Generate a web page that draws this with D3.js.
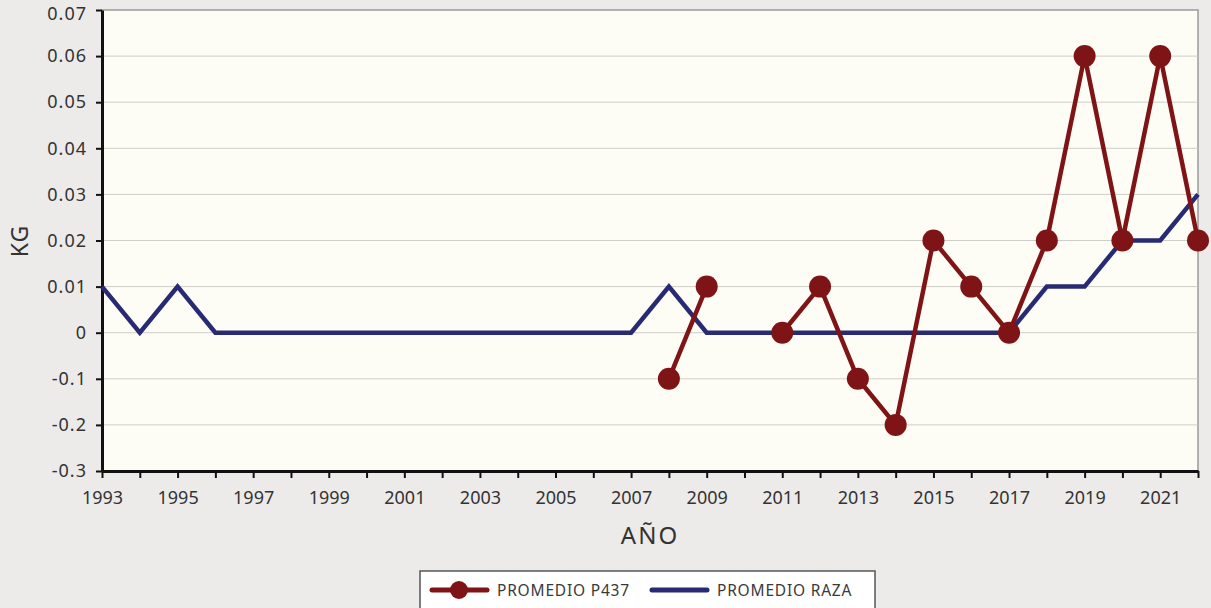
<!DOCTYPE html>
<html>
<head>
<meta charset="utf-8">
<script src="https://cdn.jsdelivr.net/npm/d3@7"></script>
<style>
  body { margin: 0; background: #edebea; }
  svg { display: block; font-family: "Noto Sans", "DejaVu Sans", sans-serif; }
</style>
</head>
<body>
<svg id="chart"></svg>
<script>
// data
var years = d3.range(1993, 2023);
var razaValues = [0.01, 0, 0.01, 0, 0, 0, 0, 0, 0, 0, 0, 0, 0, 0, 0,
  0.01, 0, 0, 0, 0, 0, 0, 0, 0, 0, 0.01, 0.01, 0.02, 0.02, 0.03];
var p437Years = [2008, 2009, 2010, 2011, 2012, 2013, 2014, 2015, 2016, 2017, 2018, 2019, 2020, 2021, 2022];
var p437Values = [-0.1, 0.01, null, 0, 0.01, -0.1, -0.2, 0.02, 0.01, 0, 0.02, 0.06, 0.02, 0.06, 0.02];
var yTicks = [-0.3, -0.2, -0.1, 0, 0.01, 0.02, 0.03, 0.04, 0.05, 0.06, 0.07];
var xTickLabels = d3.range(1993, 2022, 2);
var seriesNames = ["PROMEDIO P437", "PROMEDIO RAZA"];

var width = 1211, height = 608;
var margin = {top: 10, right: 13, bottom: 137, left: 102};
var red = "#7f1416", navy = "#282b73";
var textColor = "#333";

var svg = d3.select("#chart").attr("width", width).attr("height", height);

var x = d3.scaleLinear().domain([1993, 2022]).range([margin.left, width - margin.right]);
// the axis has equal spacing per label, so it is piecewise: 3 steps below 0, 7 above
var y0 = margin.top + 7 * (height - margin.top - margin.bottom) / 10;
var y = d3.scaleLinear().domain([-0.3, 0, 0.07]).range([height - margin.bottom, y0, margin.top]);

svg.append("rect")
  .attr("x", margin.left).attr("y", margin.top)
  .attr("width", x(2022) - x(1993)).attr("height", y(-0.3) - y(0.07))
  .attr("fill", "#fdfdf5")
  .attr("stroke", "#9a9a9a").attr("stroke-width", 1.5);

// grid
svg.append("g").selectAll("line")
  .data(yTicks.slice(1, -1))
  .enter().append("line")
  .attr("x1", margin.left).attr("x2", x(2022))
  .attr("y1", function(d) { return y(d); })
  .attr("y2", function(d) { return y(d); })
  .attr("stroke", "#cfcdc8").attr("stroke-width", 1);

// axes
var xAxis = svg.append("g")
  .attr("transform", "translate(0," + y(-0.3) + ")")
  .call(d3.axisBottom(x).tickValues(years).tickSize(7).tickSizeOuter(0)
    .tickFormat(function(d) { return xTickLabels.indexOf(d) >= 0 ? d : ""; }));
xAxis.attr("font-family", null);
xAxis.select(".domain").attr("stroke", "#111").attr("stroke-width", 3);
xAxis.selectAll(".tick line").attr("stroke", "#111").attr("stroke-width", 2);
xAxis.selectAll("text").attr("font-size", 18).attr("fill", textColor).attr("dy", "1.25em");

var yAxis = svg.append("g")
  .attr("transform", "translate(" + margin.left + ",0)")
  .call(d3.axisLeft(y).tickValues(yTicks).tickSize(6).tickSizeOuter(0)
    .tickFormat(function(d) { return d === 0 ? "0" : String(d); }));
yAxis.attr("font-family", null);
yAxis.select(".domain").attr("stroke", "#111").attr("stroke-width", 3);
yAxis.selectAll(".tick line").attr("stroke", "#111").attr("stroke-width", 2);
yAxis.selectAll("text").attr("font-size", 18).attr("fill", textColor)
  .attr("letter-spacing", 1).attr("x", -15)
  .attr("dy", function(d) { return d === 0.07 ? "0.5em" : "0.32em"; });

// axis titles
svg.append("text")
  .attr("transform", "translate(28,241) rotate(-90)")
  .attr("text-anchor", "middle").attr("font-size", 23).attr("fill", textColor)
  .attr("letter-spacing", 1)
  .text("KG");
svg.append("text")
  .attr("x", (x(1993) + x(2022)) / 2).attr("y", 544)
  .attr("text-anchor", "middle").attr("font-size", 24).attr("fill", textColor)
  .attr("letter-spacing", 2)
  .text("AÑO");

// lines
var raza = years.map(function(yr, i) { return {year: yr, v: razaValues[i]}; });
var p437 = p437Years.map(function(yr, i) { return {year: yr, v: p437Values[i]}; });

var line = d3.line()
  .defined(function(d) { return d.v !== null; })
  .x(function(d) { return x(d.year); })
  .y(function(d) { return y(d.v); });

svg.append("path").datum(raza)
  .attr("d", line).attr("fill", "none")
  .attr("stroke", navy).attr("stroke-width", 4.5);

svg.append("path").datum(p437)
  .attr("d", line).attr("fill", "none")
  .attr("stroke", red).attr("stroke-width", 4.5);

svg.append("g").selectAll("circle")
  .data(p437.filter(function(d) { return d.v !== null; }))
  .enter().append("circle")
  .attr("cx", function(d) { return x(d.year); })
  .attr("cy", function(d) { return y(d.v); })
  .attr("r", 11)
  .attr("fill", red);

// legend
var legend = svg.append("g");
legend.append("rect")
  .attr("x", 420).attr("y", 571).attr("width", 455).attr("height", 45)
  .attr("fill", "#ffffff").attr("stroke", "#555").attr("stroke-width", 1.5);

var items = [{name: seriesNames[0], color: red, x: 432, marker: true},
             {name: seriesNames[1], color: navy, x: 652, marker: false}];
items.forEach(function(it) {
  legend.append("line")
    .attr("x1", it.x).attr("x2", it.x + 55).attr("y1", 590).attr("y2", 590)
    .attr("stroke", it.color).attr("stroke-width", 5).attr("stroke-linecap", "round");
  if (it.marker) {
    legend.append("circle").attr("cx", it.x + 27).attr("cy", 590).attr("r", 9).attr("fill", it.color);
  }
  legend.append("text")
    .attr("x", it.x + 65).attr("y", 596)
    .attr("font-size", 15.5).attr("fill", "#3a3a3a")
    .attr("letter-spacing", 0.8)
    .text(it.name);
});
</script>
</body>
</html>
